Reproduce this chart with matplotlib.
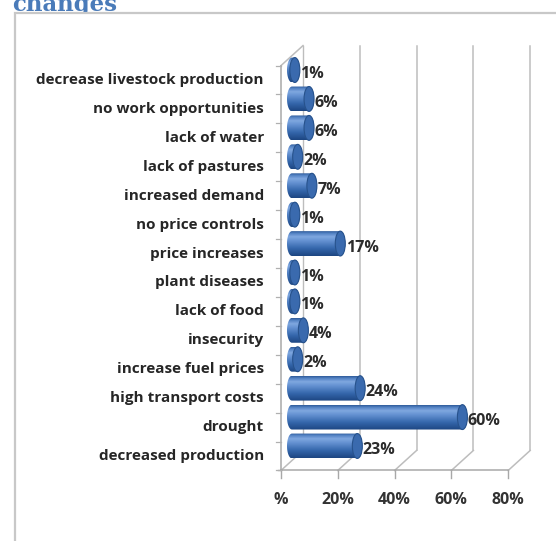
import numpy as np
import matplotlib
matplotlib.use("Agg")
import matplotlib.pyplot as plt
from matplotlib.patches import Polygon, Ellipse, Rectangle
from matplotlib.colors import LinearSegmentedColormap

# categories, bottom to top
categories = ["decreased production", "drought", "high transport costs",
              "increase fuel prices", "insecurity", "lack of food",
              "plant diseases", "price increases", "no price controls",
              "increased demand", "lack of pastures", "lack of water",
              "no work opportunities", "decrease livestock production"]
values = [23, 60, 24, 2, 4, 1, 1, 17, 1, 7, 2, 6, 6, 1]
ticks = [0, 20, 40, 60, 80]
tick_labels = ["%", "20%", "40%", "60%", "80%"]

W, H = 556, 541
fig = plt.figure(figsize=(W / 100, H / 100), dpi=100)
ax = fig.add_axes([0, 0, 1, 1], zorder=1)
ax.patch.set_visible(False)

# pixel scale of the plot: 0% at x=281, 2.84 px per %, rows 28.9 px apart
px_per_x = 2.84
px_per_y = 28.92
x_zero_px = 281
y_zero_px = 456
ax.set_xlim(-x_zero_px / px_per_x, (W - x_zero_px) / px_per_x)
ax.set_ylim((y_zero_px - H) / px_per_y, y_zero_px / px_per_y)
ax.axis("off")

# depth of the 3d box in data units
dx = 22 / px_per_x
dy = 20 / px_per_y
n = len(categories)
y_bot, y_top = -0.5, n - 0.5
xmax = ticks[-1]
grid_c = "#bdbdbd"
font = "Open Sans"

# title fragment, partly hidden by the chart area box
fig.text(12 / W, 1 - 11 / H, "changes", fontsize=16.5, fontweight="bold",
         family="DejaVu Serif", color="#4a7bb9", va="baseline", ha="left",
         zorder=0.2)
# chart area box
fig.patches.append(Rectangle((15 / W, -0.1), 1.2, 1 - 13 / H + 0.1,
                             transform=fig.transFigure, fc="white",
                             ec="#c8c8c8", lw=1.6, zorder=0.5))

# back wall gridlines
for t in ticks[1:]:
    ax.plot([t + dx, t + dx], [y_bot + dy, y_top + dy], color=grid_c, lw=1.1, zorder=1)
# left wall
ax.plot([dx, dx], [y_bot + dy, y_top + dy], color=grid_c, lw=1.0, zorder=1)
ax.plot([0, dx], [y_top, y_top + dy], color=grid_c, lw=1.1, zorder=1)
ax.plot([0, 0], [y_bot, y_top], color="#a8a8a8", lw=1.1, zorder=5)
# floor
for t in ticks:
    ax.plot([t, t + dx], [y_bot, y_bot + dy], color=grid_c, lw=1.1, zorder=1)
    ax.plot([t, t], [y_bot, y_bot - 0.25], color="#a8a8a8", lw=1.0, zorder=5)
ax.plot([0, xmax], [y_bot, y_bot], color="#a8a8a8", lw=1.1, zorder=5)
ax.plot([-1.0, 0], [y_bot, y_bot], color="#a8a8a8", lw=1.0, zorder=5)
# left axis ticks
for i in range(n + 1):
    ax.plot([-1.8, 0], [i - 0.5, i - 0.5], color="#b0b0b0", lw=0.9, zorder=5)

# cylinder bars
cmap = LinearSegmentedColormap.from_list(
    "cyl", [(0.0, "#1d4682"), (0.3, "#3466ab"), (0.62, "#6592d2"),
            (0.78, "#80a8e0"), (0.92, "#5281c3"), (1.0, "#2f5c9a")])
grad = np.linspace(0, 1, 64).reshape(-1, 1)
bar_h = 0.86
rx = 5.0 / px_per_x
for i, v in enumerate(values):
    yc = i + dy / 2
    x0 = dx / 2
    x1 = v + dx / 2
    t_r = np.linspace(np.pi / 2, -np.pi / 2, 40)
    t_l = np.linspace(3 * np.pi / 2, np.pi / 2, 40)
    xs = np.concatenate([x1 + rx * np.cos(t_r), x0 + rx * np.cos(t_l)])
    ys = np.concatenate([yc + bar_h / 2 * np.sin(t_r), yc + bar_h / 2 * np.sin(t_l)])
    body = Polygon(np.column_stack([xs, ys]), closed=True, fc="none", ec="none")
    ax.add_patch(body)
    im = ax.imshow(grad, cmap=cmap, aspect="auto", origin="lower",
                   extent=(x0 - rx, x1 + rx, yc - bar_h / 2, yc + bar_h / 2),
                   zorder=3, interpolation="bilinear")
    im.set_clip_path(body)
    ax.add_patch(Ellipse((x1, yc), 2 * rx, bar_h, fc="#3a6aae", ec="#27528c",
                         lw=0.8, zorder=4))
    ax.text(x1 + rx + 0.2, yc - 0.14, f"{v}%", fontsize=11.5, fontweight="bold",
            family=font, color="#2b2b2b", ha="left", va="center", zorder=6)

# category labels
for i, c in enumerate(categories):
    ax.text(-6.0, i, c, fontsize=11, fontweight="bold", family=font,
            color="#262626", ha="right", va="center")

# x tick labels
for t, lab in zip(ticks, tick_labels):
    ax.text(t, -1.52, lab, fontsize=11.5, fontweight="bold", family=font,
            color="#333333", ha="center", va="center")

ax.set_xlim(-x_zero_px / px_per_x, (W - x_zero_px) / px_per_x)
ax.set_ylim((y_zero_px - H) / px_per_y, y_zero_px / px_per_y)
fig.savefig("out.png", dpi=100)
